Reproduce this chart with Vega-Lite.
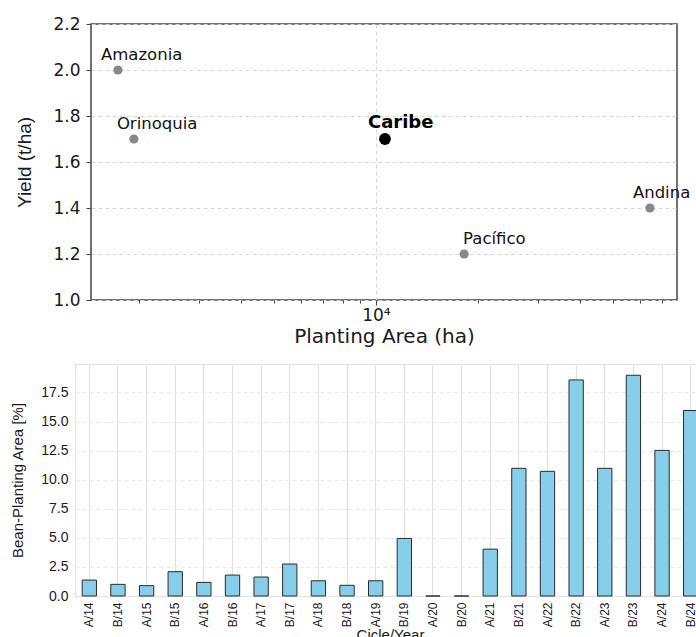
{
  "$schema": "https://vega.github.io/schema/vega-lite/v6.json",
  "background": "white",
  "padding": {"left": 10, "top": 14, "right": 0, "bottom": 0},
  "spacing": 16,
  "config": {
    "font": "DejaVu Sans",
    "axis": {"labelColor": "#1a1a1a", "titleColor": "#1a1a1a", "titleFontWeight": "normal"}
  },
  "vconcat": [
    {
      "width": 586,
      "height": 276,
      "view": {"stroke": "#444444", "strokeWidth": 1.5},
      "data": {
        "values": [
          {"region": "Amazonia", "area": 1733, "yield": 2.0},
          {"region": "Orinoquia", "area": 1931, "yield": 1.7},
          {"region": "Caribe", "area": 10630, "yield": 1.7},
          {"region": "Pacífico", "area": 18200, "yield": 1.2},
          {"region": "Andina", "area": 64300, "yield": 1.4}
        ]
      },
      "resolve": {"axis": {"x": "independent"}},
      "layer": [
        {
          "mark": {"type": "point", "opacity": 0},
          "encoding": {
            "x": {
              "field": "area", "type": "quantitative",
              "scale": {"type": "log", "domain": [1443, 77300], "nice": false},
              "axis": {
                "orient": "bottom",
                "values": [2000, 3000, 4000, 5000, 6000, 7000, 8000, 9000, 20000, 30000, 40000, 50000, 60000, 70000],
                "labels": false, "grid": false, "tickSize": 3, "tickColor": "#444444",
                "domain": false, "title": null
              }
            },
            "y": {"field": "yield", "type": "quantitative"}
          }
        },
        {
          "mark": {"type": "point", "filled": true, "opacity": 1, "color": "#888888", "size": 85},
          "transform": [{"filter": "datum.region != 'Caribe'"}],
          "encoding": {
            "x": {
              "field": "area", "type": "quantitative",
              "scale": {"type": "log", "domain": [1443, 77300], "nice": false},
              "axis": {
                "orient": "bottom",
                "values": [10000],
                "labelExpr": "'10⁴'",
                "title": "Planting Area (ha)",
                "grid": true, "gridDash": [4, 3], "gridColor": "#d6d6d6",
                "tickSize": 5, "tickColor": "#444444", "domain": false,
                "labelFont": "DejaVu Sans", "labelFontSize": 17, "labelPadding": 2,
                "titleFont": "DejaVu Sans", "titleFontSize": 20, "titlePadding": 3
              }
            },
            "y": {
              "field": "yield", "type": "quantitative",
              "scale": {"domain": [1.0, 2.2], "nice": false, "zero": false},
              "axis": {
                "values": [1.0, 1.2, 1.4, 1.6, 1.8, 2.0, 2.2],
                "format": ".1f",
                "title": "Yield (t/ha)",
                "grid": true, "gridDash": [4, 3], "gridColor": "#d6d6d6",
                "tickSize": 5, "tickColor": "#444444", "domain": false,
                "labelFont": "DejaVu Sans", "labelFontSize": 17, "labelPadding": 6,
                "minExtent": 45, "maxExtent": 45,
                "titleFont": "Liberation Sans", "titleFontSize": 19, "titlePadding": 12
              }
            }
          }
        },
        {
          "mark": {"type": "point", "filled": true, "opacity": 1, "color": "#000000", "size": 140},
          "transform": [{"filter": "datum.region == 'Caribe'"}],
          "encoding": {
            "x": {"field": "area", "type": "quantitative", "axis": null},
            "y": {"field": "yield", "type": "quantitative"}
          }
        },
        {
          "mark": {"type": "text", "align": "left", "baseline": "alphabetic", "dx": -17, "dy": -10, "font": "DejaVu Sans", "fontSize": 16.5, "color": "#111111"},
          "transform": [{"filter": "datum.region != 'Caribe' && datum.region != 'Pacífico'"}],
          "encoding": {
            "x": {"field": "area", "type": "quantitative", "axis": null},
            "y": {"field": "yield", "type": "quantitative"},
            "text": {"field": "region"}
          }
        },
        {
          "mark": {"type": "text", "align": "left", "baseline": "alphabetic", "dx": -1, "dy": -10, "font": "DejaVu Sans", "fontSize": 16.5, "color": "#111111"},
          "transform": [{"filter": "datum.region == 'Pacífico'"}],
          "encoding": {
            "x": {"field": "area", "type": "quantitative", "axis": null},
            "y": {"field": "yield", "type": "quantitative"},
            "text": {"field": "region"}
          }
        },
        {
          "mark": {"type": "text", "align": "left", "baseline": "alphabetic", "dx": -17, "dy": -11, "font": "DejaVu Sans", "fontSize": 18, "fontWeight": "bold", "color": "#000000"},
          "transform": [{"filter": "datum.region == 'Caribe'"}],
          "encoding": {
            "x": {"field": "area", "type": "quantitative", "axis": null},
            "y": {"field": "yield", "type": "quantitative"},
            "text": {"field": "region"}
          }
        }
      ]
    },
    {
      "width": 614,
      "height": 232,
      "view": {"stroke": null},
      "data": {
        "values": [
          {"cycle": "A/14", "pct": 1.37},
          {"cycle": "B/14", "pct": 1.0},
          {"cycle": "A/15", "pct": 0.89},
          {"cycle": "B/15", "pct": 2.09},
          {"cycle": "A/16", "pct": 1.17},
          {"cycle": "B/16", "pct": 1.8},
          {"cycle": "A/17", "pct": 1.63},
          {"cycle": "B/17", "pct": 2.75},
          {"cycle": "A/18", "pct": 1.31},
          {"cycle": "B/18", "pct": 0.92},
          {"cycle": "A/19", "pct": 1.31},
          {"cycle": "B/19", "pct": 4.95},
          {"cycle": "A/20", "pct": 0.0},
          {"cycle": "B/20", "pct": 0.0},
          {"cycle": "A/21", "pct": 4.03},
          {"cycle": "B/21", "pct": 10.98},
          {"cycle": "A/22", "pct": 10.72},
          {"cycle": "B/22", "pct": 18.58},
          {"cycle": "A/23", "pct": 10.98},
          {"cycle": "B/23", "pct": 18.98},
          {"cycle": "A/24", "pct": 12.52},
          {"cycle": "B/24", "pct": 15.95}
        ]
      },
      "mark": {"type": "bar", "fill": "#87CEEB", "stroke": "#2b2b2b", "strokeWidth": 1},
      "encoding": {
        "x": {
          "field": "cycle", "type": "nominal", "sort": null,
          "scale": {"paddingInner": 0.5, "paddingOuter": 0.25, "range": [-16, 614]},
          "axis": {
            "title": "Cicle/Year",
            "labelAngle": -90, "labelFont": "Liberation Sans", "labelFontSize": 12,
            "tickSize": 0, "labelPadding": 6,
            "domain": true, "domainColor": "#e3e3e3", "domainWidth": 1,
            "grid": true, "gridColor": "#e0e0e0", "bandPosition": 0.5,
            "titleFont": "Liberation Sans", "titleFontSize": 15, "titlePadding": 1
          }
        },
        "y": {
          "field": "pct", "type": "quantitative",
          "scale": {"domain": [0, 19.95], "nice": false},
          "axis": {
            "title": "Bean-Planting Area [%]",
            "values": [0, 2.5, 5, 7.5, 10, 12.5, 15, 17.5, 19.95],
            "labelExpr": "datum.value > 19 ? '' : format(datum.value, '.1f')",
            "offset": 16,
            "grid": true,
            "gridDash": {"condition": {"test": "datum.value > 19", "value": []}, "value": [4, 3]},
            "gridColor": {"condition": {"test": "datum.value > 19", "value": "#e3e3e3"}, "value": "#e8e8e8"},
            "tickSize": 0, "domain": true, "domainColor": "#e3e3e3", "labelPadding": 7,
            "minExtent": 41, "maxExtent": 41,
            "labelFont": "Liberation Sans", "labelFontSize": 14,
            "titleFont": "Liberation Sans", "titleFontSize": 15, "titlePadding": 9
          }
        }
      }
    }
  ]
}
